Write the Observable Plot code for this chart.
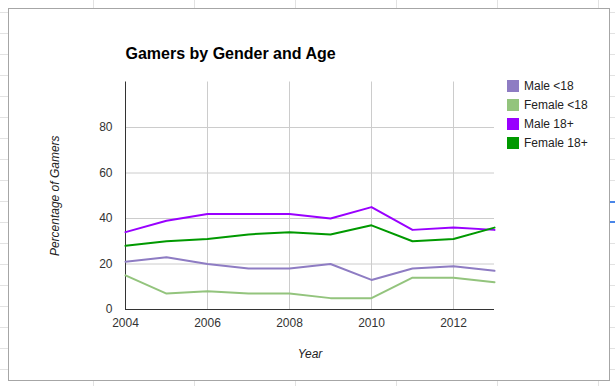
<!DOCTYPE html>
<html>
<head>
<meta charset="utf-8">
<script src="https://cdn.jsdelivr.net/npm/d3@7"></script>
<script src="https://cdn.jsdelivr.net/npm/@observablehq/plot@0.6"></script>
<style>
  html, body { margin: 0; padding: 0; }
  body {
    width: 615px; height: 386px; overflow: hidden; position: relative;
    background-color: #fff;
    background-image:
      linear-gradient(to bottom, #e2e2e2 1px, transparent 1px),
      linear-gradient(to right, #e2e2e2 1px, transparent 1px);
    background-size: 101px 21px, 101px 21px;
    background-position: 0 12px, 93px 0;
    font-family: "Liberation Sans", Arial, sans-serif;
  }
  #frame {
    position: absolute; left: 8px; top: 8px; width: 600px; height: 371px;
    background: #fff; border: 1px solid #a6a6a6; box-sizing: content-box;
  }
  #chart { position: absolute; left: 0; top: 0; }
  .handle { position: absolute; left: 610px; width: 5px; height: 2px; background: #4a86e8; }
  #legend { position: absolute; left: 507px; top: 80px; font-size: 12px; color: #222; }
  .row { height: 19px; display: flex; align-items: flex-start; }
  .sw { width: 12px; height: 12px; margin-right: 5px; }
  .lab { line-height: 12px; margin-top: 0px; }
</style>
</head>
<body>
<div id="frame"></div>
<div class="handle" style="top:201px"></div>
<div class="handle" style="top:221px"></div>
<div id="chart"></div>
<div id="legend"></div>
<script>
const years = [2004, 2005, 2006, 2007, 2008, 2009, 2010, 2011, 2012, 2013];
const seriesNames = ["Male <18", "Female <18", "Male 18+", "Female 18+"];
const seriesColors = ["#8e7cc3", "#93c47d", "#9900ff", "#009900"];
const maleUnder18 = [21, 23, 20, 18, 18, 20, 13, 18, 19, 17];
const femaleUnder18 = [15, 7, 8, 7, 7, 5, 5, 14, 14, 12];
const male18Plus = [34, 39, 42, 42, 42, 40, 45, 35, 36, 35];
const female18Plus = [28, 30, 31, 33, 34, 33, 37, 30, 31, 36];
const xTicks = [2004, 2006, 2008, 2010, 2012];
const yTicks = [0, 20, 40, 60, 80];
const title = "Gamers by Gender and Age";
const xTitle = "Year";
const yTitle = "Percentage of Gamers";

const seriesValues = [maleUnder18, femaleUnder18, male18Plus, female18Plus];
const rows = [];
seriesNames.forEach((name, i) => {
  years.forEach((yr, j) => rows.push({series: name, year: yr, value: seriesValues[i][j]}));
});

const font = "Liberation Sans, Arial, sans-serif";
const chart = Plot.plot({
  width: 615,
  height: 386,
  marginLeft: 125,
  marginRight: 121,
  marginTop: 81.5,
  marginBottom: 77,
  style: {background: "transparent", fontFamily: font, fontSize: "12px", color: "#333"},
  x: {domain: [2004, 2013], ticks: xTicks, tickFormat: d => String(d), tickSize: 0, tickPadding: 9, label: null},
  y: {domain: [0, 100], ticks: yTicks, tickSize: 0, tickPadding: 13, label: null},
  color: {domain: seriesNames, range: seriesColors},
  marks: [
    Plot.ruleX(xTicks.slice(1), {stroke: "#cccccc", strokeWidth: 1}),
    Plot.ruleY(yTicks.slice(1), {stroke: "#cccccc", strokeWidth: 1}),
    Plot.axisX({ticks: xTicks, tickFormat: d => String(d), tickSize: 0, tickPadding: 9, label: null, fontSize: 12}),
    Plot.axisY({ticks: yTicks, tickSize: 0, tickPadding: 13, label: null, fontSize: 12}),
    Plot.ruleX([2004], {y1: 0, y2: 100, stroke: "#333", strokeWidth: 1}),
    Plot.ruleY([0], {stroke: "#333", strokeWidth: 1}),
    Plot.line(rows, {x: "year", y: "value", z: "series", stroke: "series", strokeWidth: 2}),
    Plot.text([title], {frameAnchor: "top-left", dy: -23, textAnchor: "start", lineAnchor: "bottom", fontSize: 16, fontWeight: "bold", fill: "#000"}),
    Plot.text([yTitle], {frameAnchor: "left", dx: -70, rotate: -90, textAnchor: "middle", lineAnchor: "middle", fontSize: 12, fontStyle: "italic", fill: "#222"}),
    Plot.text([xTitle], {frameAnchor: "bottom", dy: 48, textAnchor: "middle", fontSize: 12, fontStyle: "italic", fill: "#222"})
  ]
});
document.getElementById("chart").appendChild(chart);

const legend = document.getElementById("legend");
seriesNames.forEach((name, i) => {
  const row = document.createElement("div");
  row.className = "row";
  const sw = document.createElement("div");
  sw.className = "sw";
  sw.style.background = seriesColors[i];
  const lab = document.createElement("div");
  lab.className = "lab";
  lab.textContent = name;
  row.appendChild(sw);
  row.appendChild(lab);
  legend.appendChild(row);
});
</script>
</body>
</html>
